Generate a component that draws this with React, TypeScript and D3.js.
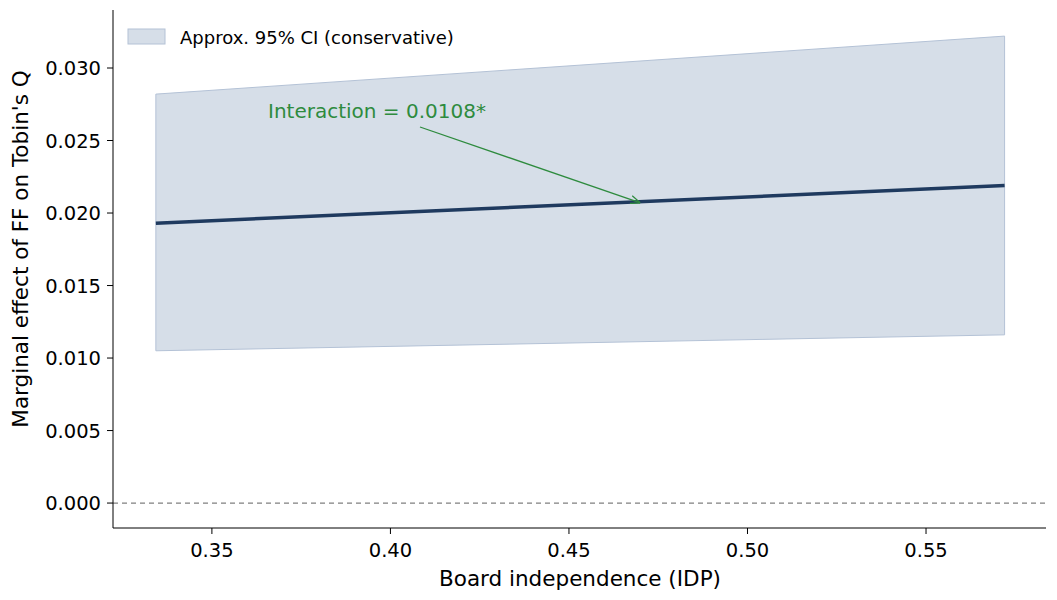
import React from "react";
import * as d3 from "d3";

const idp = [0.3343, 0.572];
const effect = [0.0193, 0.0219];
const ciLow = [0.0105, 0.0116];
const ciHigh = [0.0282, 0.0322];
const xTicks = [0.35, 0.4, 0.45, 0.5, 0.55];
const yTicks = [0, 0.005, 0.01, 0.015, 0.02, 0.025, 0.03];

export default function App() {
  const W = 1057, H = 600;
  const L = 113, R = 1046, T = 10, B = 528;
  const x = d3.scaleLinear().domain([0.3223, 0.5836]).range([L, R]);
  const y = d3.scaleLinear().domain([-0.00172, 0.034]).range([B, T]);
  const pts = idp.map((v, i) => ({ v, e: effect[i], lo: ciLow[i], hi: ciHigh[i] }));
  const area = d3.area<any>().x(d => x(d.v)).y0(d => y(d.lo)).y1(d => y(d.hi))(pts) || "";
  const line = d3.line<any>().x(d => x(d.v)).y(d => y(d.e))(pts) || "";
  const ax = 0.47, ay = 0.0207;
  const font = "DejaVu Sans, sans-serif";
  return (
    <svg width={W} height={H} style={{ position: "absolute", left: 0, top: 0, background: "#fff" }} fontFamily={font}>
      <defs>
        <marker id="ah" viewBox="0 0 10 10" refX="10" refY="5" markerWidth="10" markerHeight="10" orient="auto" markerUnits="userSpaceOnUse">
          <path d="M0,1 L10,5 L0,9" fill="none" stroke="#2e8b3e" strokeWidth="1.3" />
        </marker>
      </defs>
      <path d={area} fill="#b4c2d6" fillOpacity={0.55} stroke="#b4c2d6" strokeWidth={1} />
      <line x1={L} x2={R} y1={y(0)} y2={y(0)} stroke="#808080" strokeDasharray="5,4" strokeWidth={1.2} />
      <path d={line} fill="none" stroke="#1f3a5f" strokeWidth={3.5} />
      <text x={268} y={118} fill="#2e8b3e" fontSize={20}>Interaction = 0.0108*</text>
      <line x1={420} y1={127} x2={x(ax)} y2={y(ay)} stroke="#2e8b3e" strokeWidth={1.3} markerEnd="url(#ah)" />
      <line x1={L} x2={L} y1={T} y2={B} stroke="#000" strokeWidth={1} />
      <line x1={L} x2={R} y1={B} y2={B} stroke="#000" strokeWidth={1} />
      {xTicks.map(t => (
        <g key={t}>
          <line x1={x(t)} x2={x(t)} y1={B} y2={B + 6} stroke="#000" />
          <text x={x(t)} y={B + 29} textAnchor="middle" fontSize={19.5}>{t.toFixed(2)}</text>
        </g>
      ))}
      {yTicks.map(t => (
        <g key={t}>
          <line x1={L - 6} x2={L} y1={y(t)} y2={y(t)} stroke="#000" />
          <text x={L - 12} y={y(t) + 7} textAnchor="end" fontSize={19.5}>{t.toFixed(3)}</text>
        </g>
      ))}
      <text x={580} y={586} textAnchor="middle" fontSize={21.5}>Board independence (IDP)</text>
      <text transform={`translate(28,249) rotate(-90)`} textAnchor="middle" fontSize={21.5}>Marginal effect of FF on Tobin's Q</text>
      <rect x={128} y={29} width={37} height={15} fill="#b4c2d6" fillOpacity={0.55} stroke="#b4c2d6" />
      <text x={180} y={44} fontSize={18}>Approx. 95% CI (conservative)</text>
    </svg>
  );
}
